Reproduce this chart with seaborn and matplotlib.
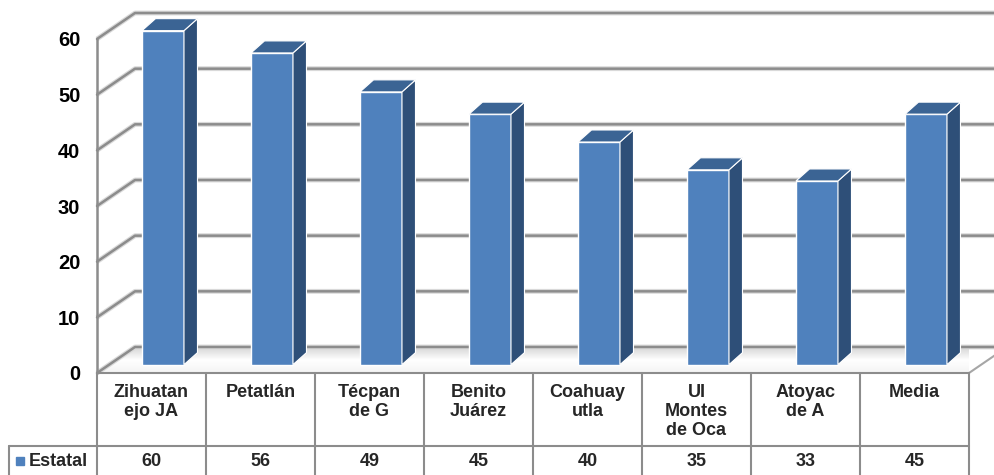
import matplotlib
matplotlib.use("Agg")
import matplotlib.pyplot as plt
import seaborn as sns
import numpy as np
import pandas as pd
from matplotlib.patches import Polygon
from matplotlib.colors import LinearSegmentedColormap
from matplotlib.transforms import blended_transform_factory

# data
categories = ["Zihuatan\nejo JA", "Petatlán", "Técpan\nde G", "Benito\nJuárez",
              "Coahuay\nutla", "UI\nMontes\nde Oca", "Atoyac\nde A", "Media"]
values = [60, 56, 49, 45, 40, 35, 33, 45]
series_name = "Estatal"
y_ticks = [0, 10, 20, 30, 40, 50, 60]

FRONT = "#4F81BD"
SIDE = "#2E4F78"
TOP = "#3B6494"
GRID = "#8C8C8C"

W, H = 995, 475

sns.set_theme(style="white")
plt.rcParams['font.family'] = ['Liberation Sans', 'DejaVu Sans']

fig = plt.figure(figsize=(W / 100, H / 100), dpi=100)
ax = fig.add_axes([97 / W, (H - 373) / H, 872 / W, 334 / H])

df = pd.DataFrame({"municipio": categories, "valor": values})
sns.barplot(data=df, x="municipio", y="valor", color=FRONT, saturation=1,
            width=0.385, edgecolor="white", linewidth=1, ax=ax, zorder=3)
ax.set_xlim(-0.5, 7.5)
ax.set_ylim(0, 60)

# pixel sizes -> data units for the fake 3D depth
px_x = 872 / 8
px_y = 334 / 60
DX = 38 / px_x      # wall depth
DY = 26 / px_y
BX = 11.5 / px_x    # where the bars stand inside the depth
BY = 1.5
SX = 13.5 / px_x    # bar thickness
SY = 12 / px_y

# floor with a soft grey gradient
floor = Polygon([(-0.5, 0), (7.5, 0), (7.5 + DX, DY), (-0.5 + DX, DY)],
                closed=True, facecolor="none", edgecolor="none",
                clip_on=False, zorder=0)
ax.add_patch(floor)
floor_cmap = LinearSegmentedColormap.from_list("floor", ["#F4F4F4", "#FFFFFF", "#D6D6D6"])
grad = np.linspace(0, 1, 50).reshape(-1, 1)
img = ax.imshow(grad, cmap=floor_cmap, aspect="auto", origin="lower",
                extent=(-0.5, 7.5 + DX, 0, DY), zorder=0.5)
img.set_clip_path(floor)
ax.set_xlim(-0.5, 7.5)
ax.set_ylim(0, 60)
ax.plot([7.5, 7.5 + DX], [0, DY], color="#A6A6A6", lw=1.5, clip_on=False, zorder=1)

# walls / gridlines
for v in y_ticks:
    ax.plot([-0.5, -0.5 + DX, 7.5 + DX], [v, v + DY, v + DY], color="#D9D9D9",
            lw=3.5, clip_on=False, zorder=1, solid_capstyle="butt")
    ax.plot([-0.5, -0.5 + DX, 7.5 + DX], [v, v + DY, v + DY], color=GRID,
            lw=1.8, clip_on=False, zorder=1.5)
ax.plot([-0.5, -0.5], [0, 60], color=GRID, lw=1.8, clip_on=False, zorder=1.5)

# 3D faces of the bars
for p in ax.containers[0]:
    x0 = p.get_x() + BX
    w = p.get_width()
    h = p.get_height()
    p.set_x(x0)
    p.set_y(BY)
    p.set_clip_on(False)
    top = BY + h
    side = [(x0 + w, BY), (x0 + w + SX, BY + SY), (x0 + w + SX, top + SY), (x0 + w, top)]
    cap = [(x0, top), (x0 + w, top), (x0 + w + SX, top + SY), (x0 + SX, top + SY)]
    ax.add_patch(Polygon(side, closed=True, facecolor=SIDE, edgecolor="white",
                         lw=0.8, clip_on=False, zorder=3))
    ax.add_patch(Polygon(cap, closed=True, facecolor=TOP, edgecolor="white",
                         lw=0.8, clip_on=False, zorder=3))

ax.set_xticks([])
ax.set_xlabel("")
ax.set_ylabel("")
ax.set_yticks(y_ticks)
ax.set_yticklabels([str(v) for v in y_ticks], fontsize=14.5, fontweight="bold")
ax.tick_params(axis="y", length=0, pad=12, colors="black")
for s in ax.spines.values():
    s.set_visible(False)

# data table under the chart
tr = blended_transform_factory(ax.transData, fig.transFigure)
fy = lambda py: 1 - py / H
left = -0.5 - 88 / px_x
line_kw = dict(color=GRID, lw=1.5, transform=tr, clip_on=False, zorder=2)
ax.plot([-0.5, 7.5], [fy(373), fy(373)], **line_kw)
ax.plot([left, 7.5], [fy(446), fy(446)], **line_kw)
ax.plot([left, left], [fy(446), fy(480)], **line_kw)
for i in range(len(categories) + 1):
    ax.plot([i - 0.5, i - 0.5], [fy(373), fy(480)], **line_kw)

for i, (lab, v) in enumerate(zip(categories, values)):
    ax.text(i, fy(384), lab, transform=tr, ha="center", va="top", fontsize=13,
            fontweight="bold", linespacing=1.15)
    ax.text(i, fy(461), str(v), transform=tr, ha="center", va="center",
            fontsize=13, fontweight="bold")

ax.plot([-0.5 - 77 / px_x], [fy(461)], marker="s", markersize=6, color=FRONT,
        transform=tr, clip_on=False, ls="none")
ax.text(-0.5 - 68 / px_x, fy(461), series_name, transform=tr, ha="left",
        va="center", fontsize=13, fontweight="bold")

fig.savefig("out.png", dpi=100)
